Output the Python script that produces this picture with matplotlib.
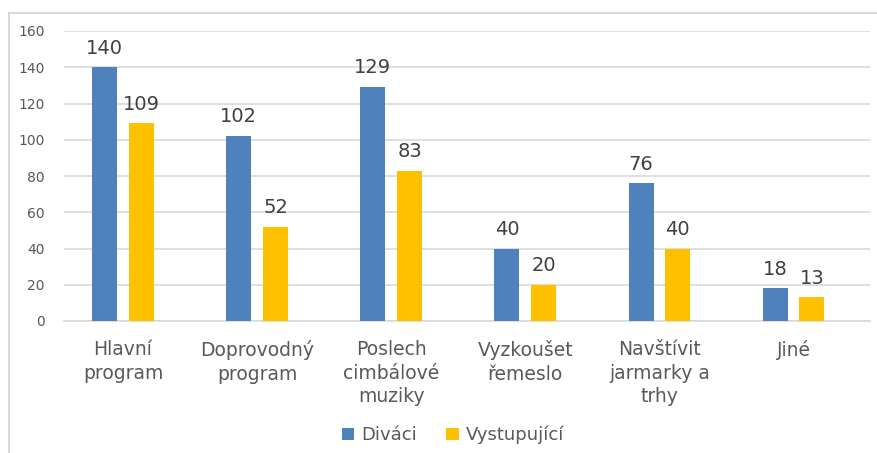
import matplotlib.pyplot as plt
import matplotlib.patches as mpatches
import numpy as np

# --- data ---
categories = ['Hlavní\nprogram', 'Doprovodný\nprogram', 'Poslech\ncimbálové\nmuziky',
              'Vyzkoušet\nřemeslo', 'Navštívit\njarmarky a\ntrhy', 'Jiné']
divaci = [140, 102, 129, 40, 76, 18]
vystupujici = [109, 52, 83, 20, 40, 13]
series_names = ['Diváci', 'Vystupující']

c_blue = '#4F81BD'
c_yellow = '#FFC000'
c_text = '#595959'
c_grid = '#D9D9D9'

W, H = 877, 453
fig = plt.figure(figsize=(W / 100, H / 100), dpi=100)
plt.rcParams['font.family'] = 'DejaVu Sans'

# outer frame (only top and left edges visible in the reference)
frame = mpatches.Rectangle((9 / W, -0.1), 1.2, 1 - 13 / H + 0.1, transform=fig.transFigure,
                           fill=False, edgecolor=c_grid, linewidth=1.5)
fig.patches.append(frame)

ax = fig.add_axes([64 / W, 1 - 321 / H, (870 - 64) / W, (321 - 31) / H])

x = np.arange(len(categories))
width = 0.186
off = 0.137
b1 = ax.bar(x - off, divaci, width, color=c_blue, label=series_names[0], zorder=3)
b2 = ax.bar(x + off, vystupujici, width, color=c_yellow, label=series_names[1], zorder=3)

for bars in (b1, b2):
    for rect in bars:
        ax.annotate(f'{int(rect.get_height())}',
                    (rect.get_x() + rect.get_width() / 2, rect.get_height()),
                    xytext=(0, 7), textcoords='offset points',
                    ha='center', va='bottom', fontsize=14, color='#404040')

ax.set_xlim(-0.44, 5.57)
ax.set_ylim(0, 160)
ax.set_yticks(range(0, 161, 20))
ax.yaxis.grid(True, color=c_grid, linewidth=1.2, zorder=0)
ax.set_axisbelow(True)

ax.set_xticks(x)
ax.set_xticklabels(categories, fontsize=13.5, color=c_text, linespacing=1.3)
ax.tick_params(axis='x', length=0, pad=14)
ax.tick_params(axis='y', length=0, pad=14, labelsize=10, labelcolor=c_text)

for s in ['top', 'right', 'left']:
    ax.spines[s].set_visible(False)
ax.spines['bottom'].set_color(c_grid)
ax.spines['bottom'].set_linewidth(1.2)

fig.legend(handles=[b1, b2], loc='center', bbox_to_anchor=(453 / W, 1 - 435 / H),
           ncol=2, frameon=False, fontsize=13, labelcolor=c_text,
           handlelength=0.7, handleheight=0.7, handletextpad=0.4, columnspacing=1.6)

fig.savefig('out.png', dpi=100)
